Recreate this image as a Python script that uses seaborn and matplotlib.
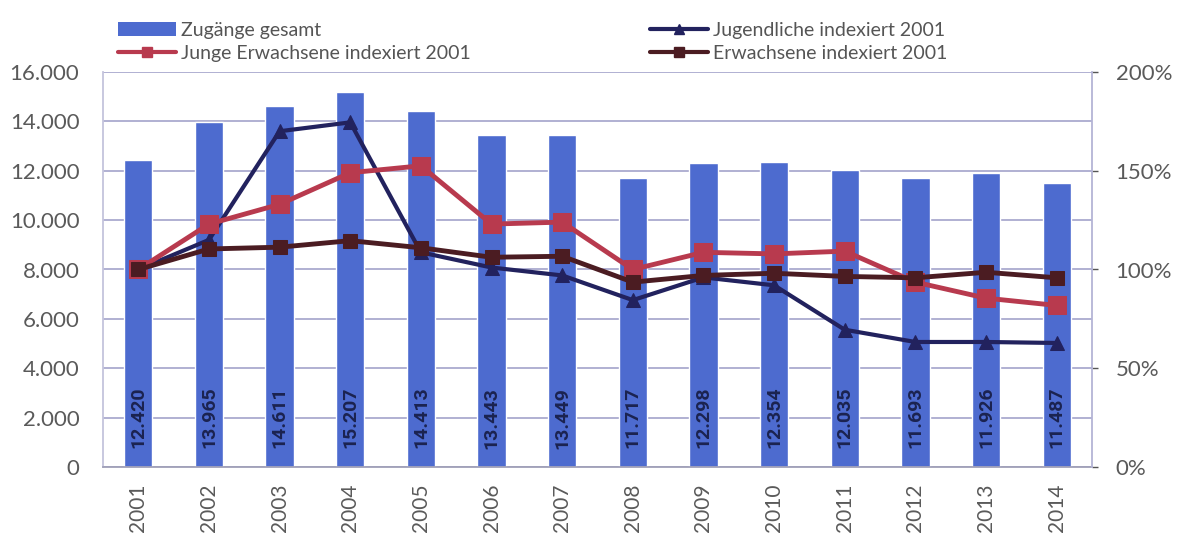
import numpy as np
import pandas as pd
import seaborn as sns
import matplotlib.pyplot as plt
from matplotlib.lines import Line2D
from matplotlib.patches import Patch
from matplotlib.ticker import FuncFormatter

# data
years = ['2001', '2002', '2003', '2004', '2005', '2006', '2007',
         '2008', '2009', '2010', '2011', '2012', '2013', '2014']
zugaenge = [12420, 13965, 14611, 15207, 14413, 13443, 13449,
            11717, 12298, 12354, 12035, 11693, 11926, 11487]
# index 2001 = 100 %
jugendliche = [1.00, 1.15, 1.70, 1.745, 1.087, 1.01, 0.97,
               0.845, 0.96, 0.92, 0.695, 0.633, 0.633, 0.628]
junge_erw = [1.00, 1.23, 1.33, 1.49, 1.525, 1.23, 1.24,
             1.00, 1.087, 1.079, 1.093, 0.936, 0.855, 0.818]
erwachsene = [1.00, 1.104, 1.113, 1.146, 1.11, 1.062, 1.067,
              0.936, 0.97, 0.981, 0.965, 0.958, 0.986, 0.958]

bar_color = '#4d6bcf'
navy = '#22225e'
red = '#b83a4e'
brown = '#4b1c22'
grid_color = '#aaaacf'
tick_color = '#5a5a5a'

sns.set_theme(style='white')
plt.rcParams['font.family'] = ['Lato', 'DejaVu Sans']

df = pd.DataFrame({'jahr': years, 'zugaenge': zugaenge,
                   'jugendliche': jugendliche, 'junge_erw': junge_erw,
                   'erwachsene': erwachsene})

fig, ax = plt.subplots(figsize=(11.86, 5.36), dpi=100)
fig.subplots_adjust(left=103 / 1186, right=1092 / 1186,
                    top=1 - 72 / 536, bottom=1 - 467 / 536)

sns.barplot(data=df, x='jahr', y='zugaenge', color=bar_color, saturation=1,
            width=0.4, ax=ax)

# value labels inside the bars, near the base
for i, v in enumerate(df['zugaenge']):
    ax.text(i, 2000, f'{v:,}'.replace(',', '.'), rotation=90, ha='center',
            va='center', fontsize=14, fontweight='bold', family='Roboto',
            color='#1b2350')

ax.set_xlim(-0.5, len(years) - 0.5)
ax.set_ylim(0, 16000)
ax.set_yticks(np.arange(0, 16001, 2000))
ax.yaxis.set_major_formatter(FuncFormatter(lambda v, p: f'{int(v):,}'.replace(',', '.')))
ax.yaxis.grid(True, color=grid_color, lw=1.3)
ax.set_axisbelow(True)
ax.set_xlabel('')
ax.set_ylabel('')
ax.tick_params(axis='y', length=0, pad=17, labelsize=16, labelcolor=tick_color)
ax.tick_params(axis='x', length=0, pad=12, labelsize=15, labelcolor=tick_color,
               labelrotation=90)
for side in ['right', 'top']:
    ax.spines[side].set_visible(False)
ax.spines['left'].set_color('#c4c4dc')
ax.spines['left'].set_linewidth(1.3)
ax.spines['bottom'].set_color('#a0a0b8')
ax.spines['bottom'].set_linewidth(1.3)

# secondary axis with the index lines
ax2 = ax.twinx()
pos = np.arange(len(years))
sns.lineplot(x=pos, y=df['jugendliche'], ax=ax2, color=navy, lw=3,
             marker='^', markersize=10, markeredgecolor=navy)
sns.lineplot(x=pos, y=df['junge_erw'], ax=ax2, color=red, lw=3.5,
             marker='s', markersize=13, markeredgecolor=red)
sns.lineplot(x=pos, y=df['erwachsene'], ax=ax2, color=brown, lw=3.5,
             marker='s', markersize=9.5, markeredgecolor=brown)
ax2.set_ylim(0, 2.0)
ax2.set_yticks([0, 0.5, 1.0, 1.5, 2.0])
ax2.yaxis.set_major_formatter(FuncFormatter(lambda v, p: f'{v * 100:.0f}%'))
ax2.set_ylabel('')
ax2.tick_params(axis='y', length=4, width=1, color='#555555', pad=13,
                labelsize=16, labelcolor=tick_color)
for side in ['left', 'top', 'bottom']:
    ax2.spines[side].set_visible(False)
ax2.spines['right'].set_color('#b4b4d6')
ax2.spines['right'].set_linewidth(1.3)

# legend in two columns above the plot
h_bar = Patch(facecolor=bar_color, edgecolor='none', label='Zugänge gesamt')
h_junge = Line2D([], [], color=red, lw=3, marker='s', markersize=7,
                 label='Junge Erwachsene indexiert 2001')
h_jug = Line2D([], [], color=navy, lw=3, marker='^', markersize=7,
               label='Jugendliche indexiert 2001')
h_erw = Line2D([], [], color=brown, lw=3, marker='s', markersize=7,
               label='Erwachsene indexiert 2001')
leg_kw = dict(loc='upper left', frameon=False, fontsize=14, borderpad=0,
              borderaxespad=0, handlelength=3.0, handletextpad=0.25,
              labelspacing=0.3, labelcolor='#555555')
leg1 = fig.legend(handles=[h_bar, h_junge], bbox_to_anchor=(118 / 1186, 1 - 22 / 536), **leg_kw)
leg2 = fig.legend(handles=[h_jug, h_erw], bbox_to_anchor=(650 / 1186, 1 - 22 / 536), **leg_kw)

fig.savefig('out.png', dpi=100)
